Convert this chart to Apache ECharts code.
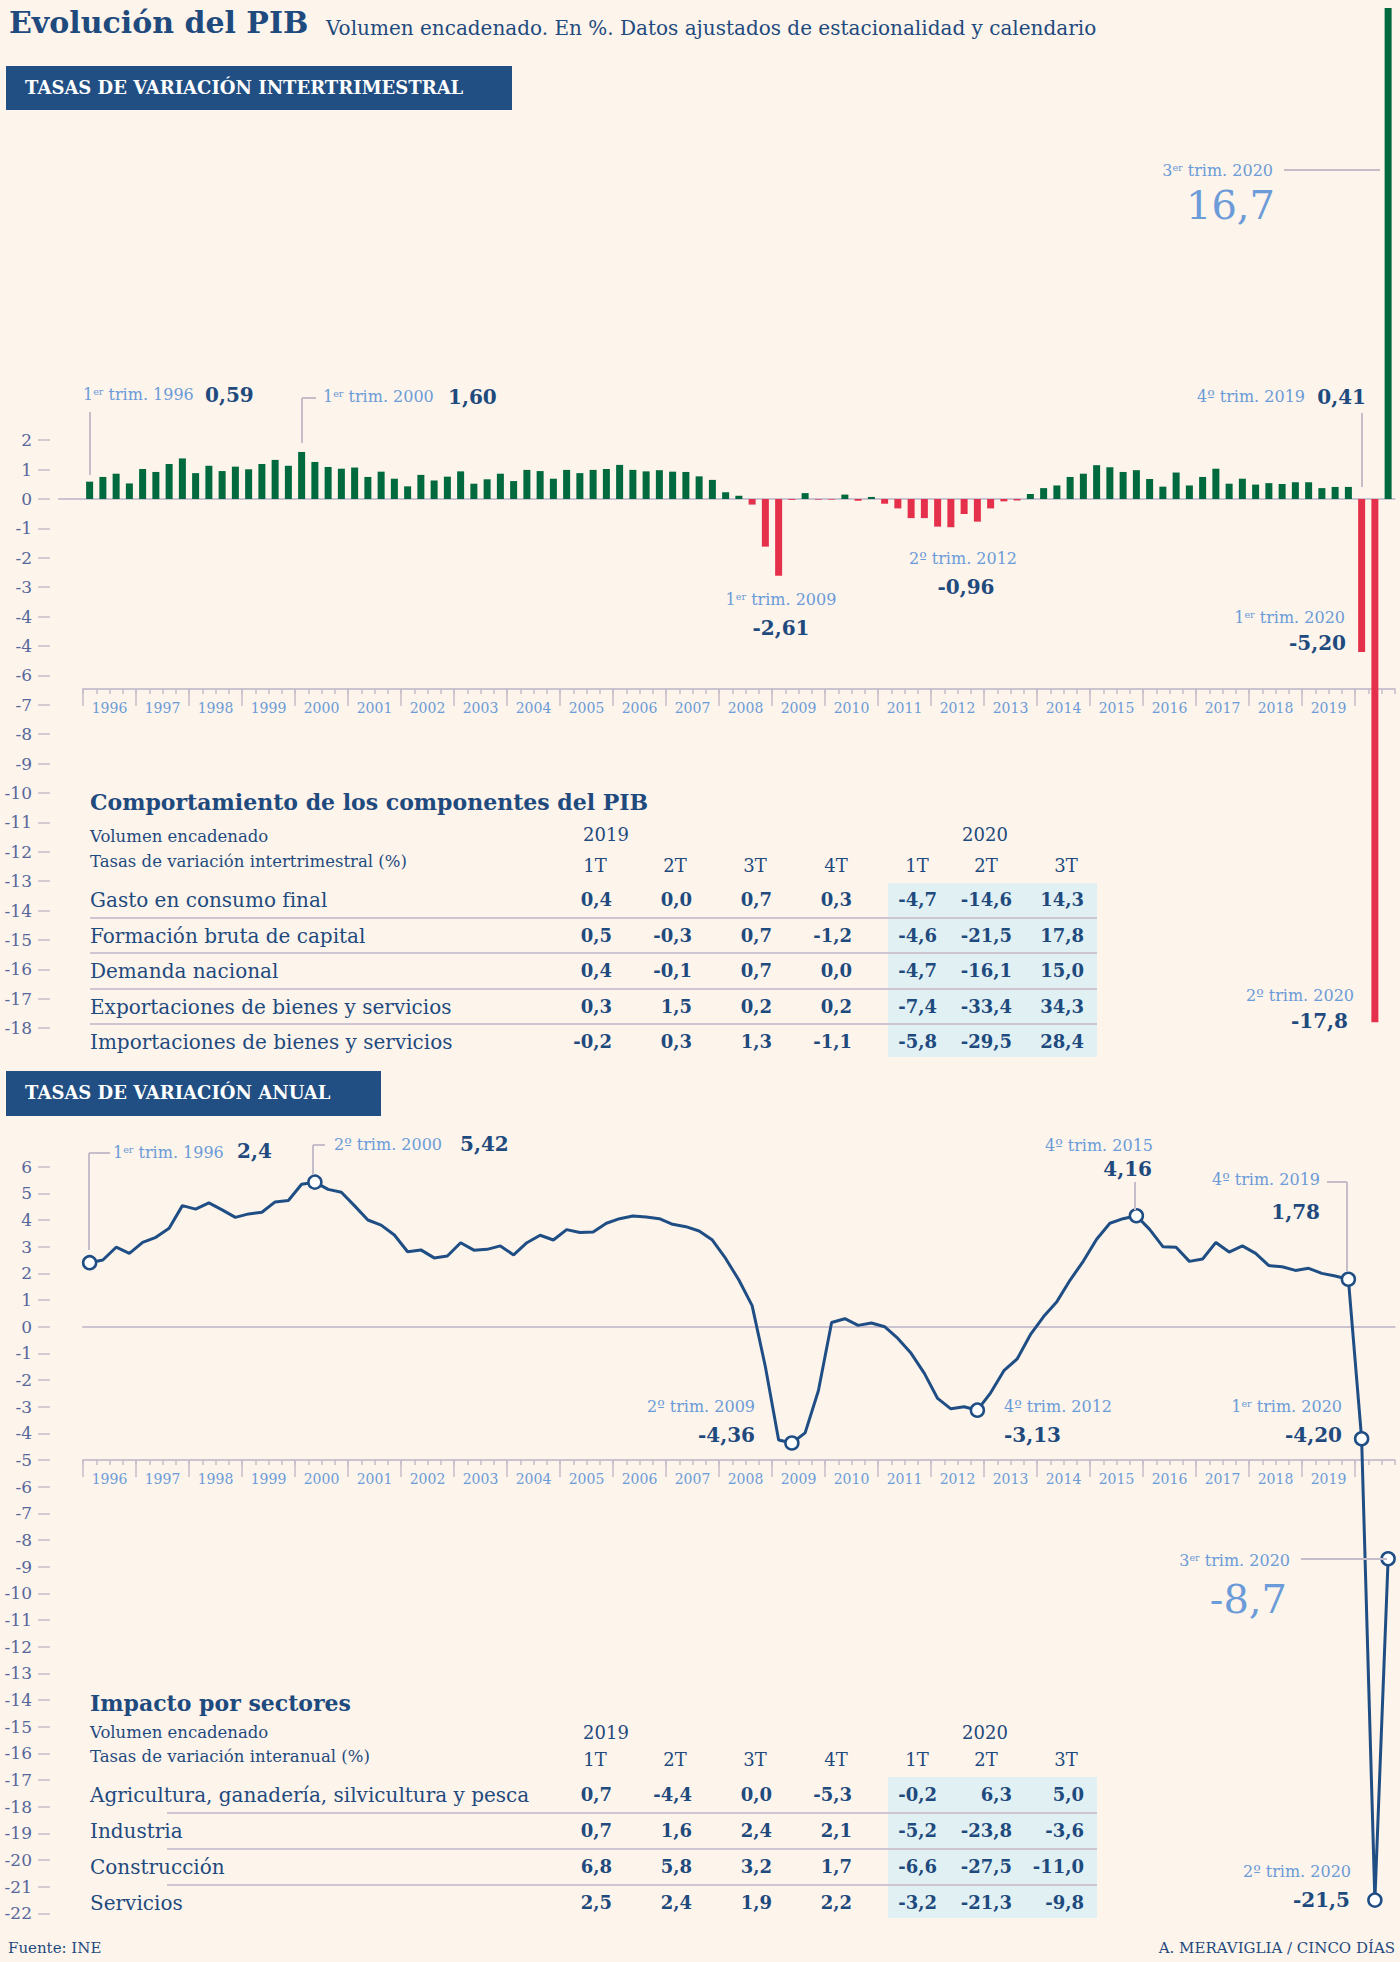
<!DOCTYPE html>
<html lang="es">
<head>
<meta charset="UTF-8">
<title>Evolución del PIB</title>
<script src="https://cdn.jsdelivr.net/npm/echarts@6/dist/echarts.min.js"></script>
<style>
  html, body { margin: 0; padding: 0; background: #fdf4eb; }
  #page { position: relative; width: 1400px; height: 1962px; overflow: hidden; font-family: "DejaVu Serif", serif; color: #1f4a7e; }
  #main { position: absolute; left: 0; top: 0; width: 1400px; height: 1962px; }
  .t { position: absolute; white-space: nowrap; line-height: 1; z-index: 3; }
  .rule { position: absolute; z-index: 2; }
  .title { font-weight: bold; font-size: 30px; }
  .sub { font-size: 20px; }
  .hdr { font-weight: bold; font-size: 18px; color: #fff; }
  .note { font-size: 16px; color: #6b9bd8; }
  .val { font-weight: bold; font-size: 20px; }
  .big { font-size: 40px; color: #6b9bd8; }
  .tt { font-weight: bold; font-size: 22px; }
  .th { font-size: 16.5px; }
  .col { font-size: 18px; }
  .row { font-size: 20px; }
  .num { font-weight: bold; font-size: 18px; }
  .foot { font-size: 15px; }
  .sup { font-size: 0.6em; position: relative; top: -0.5em; }
</style>
</head>
<body>
<div id="page">
  <div id="main"></div>
</div>
<script>
// ---- data ----
const years = ['1996','1997','1998','1999','2000','2001','2002','2003','2004','2005','2006','2007',
  '2008','2009','2010','2011','2012','2013','2014','2015','2016','2017','2018','2019'];

// tasa intertrimestral, 1T 1996 .. 3T 2020
const intertrimestral = [
  0.59, 0.75, 0.86, 0.53, 1.02, 0.92, 1.19, 1.38, 0.88, 1.13,
  0.95, 1.10, 1.01, 1.19, 1.33, 1.13, 1.60, 1.26, 1.09, 1.03,
  1.07, 0.75, 0.93, 0.69, 0.43, 0.82, 0.63, 0.76, 0.94, 0.52,
  0.67, 0.86, 0.61, 0.99, 0.95, 0.69, 0.99, 0.88, 0.99, 1.02,
  1.16, 0.99, 0.94, 0.98, 0.93, 0.92, 0.77, 0.65, 0.23, 0.11,
  -0.19, -1.62, -2.61, -0.03, 0.20, -0.02, -0.02, 0.15, -0.06, 0.07,
  -0.16, -0.32, -0.65, -0.65, -0.94, -0.96, -0.51, -0.77, -0.32, -0.08,
  -0.05, 0.17, 0.37, 0.46, 0.75, 0.86, 1.15, 1.08, 0.92, 0.98,
  0.68, 0.42, 0.90, 0.46, 0.75, 1.03, 0.52, 0.69, 0.49, 0.54,
  0.51, 0.57, 0.57, 0.37, 0.41, 0.41, -5.20, -17.8, 16.7
];

// tasa anual, 1T 1996 .. 3T 2020
const anual = [
  2.40, 2.50, 2.98, 2.75, 3.16, 3.35, 3.69, 4.54, 4.41, 4.64,
  4.38, 4.10, 4.23, 4.29, 4.68, 4.73, 5.34, 5.42, 5.15, 5.04,
  4.53, 4.00, 3.81, 3.44, 2.81, 2.88, 2.58, 2.65, 3.15, 2.87,
  2.90, 3.03, 2.69, 3.15, 3.43, 3.25, 3.64, 3.53, 3.55, 3.88,
  4.05, 4.15, 4.11, 4.05, 3.84, 3.75, 3.59, 3.25, 2.56, 1.75,
  0.79, -1.50, -4.25, -4.36, -3.98, -2.40, 0.16, 0.30, 0.05, 0.14,
  0.00, -0.44, -1.00, -1.75, -2.69, -3.08, -3.00, -3.13, -2.48, -1.65,
  -1.21, -0.30, 0.38, 0.94, 1.75, 2.46, 3.28, 3.88, 4.05, 4.16,
  3.65, 3.00, 2.98, 2.45, 2.54, 3.16, 2.80, 3.03, 2.75, 2.29,
  2.25, 2.11, 2.19, 2.00, 1.90, 1.78, -4.20, -21.5, -8.7
];
const anualMarked = [0, 17, 53, 67, 79, 95, 96, 97, 98];

const topTicks = [2,1,0,-1,-2,-3,-4,-5,-6,-7,-8,-9,-10,-11,-12,-13,-14,-15,-16,-17,-18];
const topTickLabels = ['2','1','0','-1','-2','-3','-4','-4','-6','-7','-8','-9','-10','-11','-12','-13','-14','-15','-16','-17','-18'];
const bottomTicks = [6,5,4,3,2,1,0,-1,-2,-3,-4,-5,-6,-7,-8,-9,-10,-11,-12,-13,-14,-15,-16,-17,-18,-19,-20,-21,-22];

const tableCols = ['1T','2T','3T','4T','1T','2T','3T'];
const compRows = ['Gasto en consumo final','Formación bruta de capital','Demanda nacional',
  'Exportaciones de bienes y servicios','Importaciones de bienes y servicios'];
const compValues = [
  [0.4, 0.0, 0.7, 0.3, -4.7, -14.6, 14.3],
  [0.5, -0.3, 0.7, -1.2, -4.6, -21.5, 17.8],
  [0.4, -0.1, 0.7, 0.0, -4.7, -16.1, 15.0],
  [0.3, 1.5, 0.2, 0.2, -7.4, -33.4, 34.3],
  [-0.2, 0.3, 1.3, -1.1, -5.8, -29.5, 28.4]
];
const sectorRows = ['Agricultura, ganadería, silvicultura y pesca','Industria','Construcción','Servicios'];
const sectorValues = [
  [0.7, -4.4, 0.0, -5.3, -0.2, 6.3, 5.0],
  [0.7, 1.6, 2.4, 2.1, -5.2, -23.8, -3.6],
  [6.8, 5.8, 3.2, 1.7, -6.6, -27.5, -11.0],
  [2.5, 2.4, 1.9, 2.2, -3.2, -21.3, -9.8]
];

// ---- layout ----
const N = intertrimestral.length;   // 99 trimestres
const STEP = 13.25;                 // px por trimestre
const X0 = 83;                      // borde izquierdo de 1996
const PLOT_W = N * STEP;
const TOP_ZERO = 499, TOP_UNIT = 29.4;
const BOT_ZERO = 1326.7, BOT_UNIT = 26.67;

const dark = '#1f4a7e', light = '#6b9bd8', lineBlue = '#1f4e85';
const axisGrey = '#cbc3cf', tickGrey = '#c6bdca';
const fmt = v => v.toFixed(1).replace('.', ',');

const minorTicks = Array.from({length: N + 1}, (_, i) => i);
const majorTicks = years.map((_, i) => i * 4).concat([96]);
const yearPos = years.map((_, i) => i * 4 + 2);

function yearAxes(gridIndex) {
  return [
    { gridIndex, type: 'value', min: 0, max: N, position: 'bottom',
      axisLine: { show: true, onZero: false, lineStyle: { color: axisGrey, width: 2 } },
      axisTick: { show: true, customValues: minorTicks, length: 5, lineStyle: { color: tickGrey, width: 1.5 } },
      axisLabel: { show: false }, splitLine: { show: false } },
    { gridIndex, type: 'value', min: 0, max: N, position: 'bottom',
      axisLine: { show: false, onZero: false },
      axisTick: { show: true, customValues: majorTicks, length: 17, lineStyle: { color: tickGrey, width: 1.5 } },
      axisLabel: { show: true, customValues: yearPos, formatter: v => years[Math.round((v - 2) / 4)],
        color: light, fontSize: 14, fontFamily: 'DejaVu Serif', margin: 12 },
      splitLine: { show: false } }
  ];
}
function plotX(gridIndex, min) {
  return { gridIndex, type: 'value', min, max: N,
    axisLine: { show: true, onZero: true, lineStyle: { color: axisGrey, width: 2 } },
    axisTick: { show: false }, axisLabel: { show: false }, splitLine: { show: false } };
}
function plotY(gridIndex, min, max, ticks, labelFn, offset) {
  return { gridIndex, type: 'value', min, max, interval: 1, offset,
    axisLine: { show: false, onZero: false },
    axisTick: { show: true, customValues: ticks, length: 12, lineStyle: { color: tickGrey, width: 1.5 } },
    axisLabel: { show: true, customValues: ticks, formatter: labelFn, color: '#56679b',
      fontSize: 17, fontFamily: 'DejaVu Serif', margin: 18 },
    splitLine: { show: false } };
}
const hiddenY = g => ({ gridIndex: g, type: 'value', min: 0, max: 1, show: false });

const chart = echarts.init(document.getElementById('main'), null, { renderer: 'svg', width: 1400, height: 1962 });
chart.setOption({
  animation: false,
  backgroundColor: '#fdf4eb',
  grid: [
    { left: 59, top: TOP_ZERO - 17 * TOP_UNIT, width: PLOT_W + (X0 - 59), height: 35 * TOP_UNIT, outerBoundsMode: 'none' },
    { left: X0, top: 688, width: PLOT_W, height: 1, outerBoundsMode: 'none' },
    { left: X0, top: BOT_ZERO - 7 * BOT_UNIT, width: PLOT_W, height: 29 * BOT_UNIT, outerBoundsMode: 'none' },
    { left: X0, top: 1459, width: PLOT_W, height: 1, outerBoundsMode: 'none' }
  ],
  xAxis: [
    plotX(0, -(X0 - 59) / STEP),
    ...yearAxes(1),
    plotX(2, 0),
    ...yearAxes(3)
  ],
  yAxis: [
    plotY(0, -18, 17, topTicks, v => topTickLabels[topTicks.indexOf(Math.round(v))] || '', 9),
    hiddenY(1),
    plotY(2, -22, 7, bottomTicks, v => String(Math.round(v)), X0 - 50),
    hiddenY(3)
  ],
  series: [
    { type: 'bar', xAxisIndex: 0, yAxisIndex: 0, barWidth: 7, silent: true,
      data: intertrimestral.map((v, i) => [i + 0.5, v]),
      itemStyle: { color: p => p.value[1] < 0 ? '#e5304c' : '#00693e' } },
    { type: 'line', xAxisIndex: 3, yAxisIndex: 2, symbol: 'none', silent: true,
      data: anual.map((v, i) => [i + 0.5, v]),
      lineStyle: { color: lineBlue, width: 3 } },
    { type: 'scatter', xAxisIndex: 3, yAxisIndex: 2, symbolSize: 13, silent: true, z: 5,
      data: anualMarked.map(i => [i + 0.5, anual[i]]),
      itemStyle: { color: '#ffffff', borderColor: lineBlue, borderWidth: 2.5, opacity: 1 } }
  ]
});

// ---- texts ----
const page = document.getElementById('page');
function put(html, x, y, cls, align) {
  const d = document.createElement('div');
  d.className = 't ' + cls;
  d.innerHTML = html;
  d.style.left = x + 'px';
  d.style.top = y + 'px';
  const tx = align === 'r' ? '-100%' : align === 'c' ? '-50%' : '0';
  d.style.transform = 'translate(' + tx + ', -50%)';
  page.appendChild(d);
  return d;
}
function box(x, y, w, h, color) {
  const d = document.createElement('div');
  d.className = 'rule';
  d.style.cssText += `left:${x}px;top:${y}px;width:${w}px;height:${h}px;background:${color};`;
  page.appendChild(d);
}
const vline = (x, y1, y2) => box(x - 0.75, y1, 1.5, y2 - y1, tickGrey);
const hline = (x1, x2, y) => box(x1, y - 0.75, x2 - x1, 1.5, tickGrey);
const er = '1<span class="sup">er</span> trim. ';
const rd = '3<span class="sup">er</span> trim. ';

put('Evolución del PIB', 9, 23, 'title');
put('Volumen encadenado. En %. Datos ajustados de estacionalidad y calendario', 326, 28, 'sub');

box(6, 66, 506, 44, '#214f84');
put('TASAS DE VARIACIÓN INTERTRIMESTRAL', 25, 88, 'hdr');
box(6, 1071, 375, 45, '#214f84');
put('TASAS DE VARIACIÓN ANUAL', 25, 1093, 'hdr');

// anotaciones intertrimestral
put(er + '1996', 83, 395, 'note'); put('0,59', 205, 395, 'val');
vline(90, 412, 475);
put(er + '2000', 323, 397, 'note'); put('1,60', 448, 397, 'val');
vline(302, 398, 443); hline(302, 316, 398);
put(er + '2009', 781, 600, 'note', 'c'); put('-2,61', 781, 628, 'val', 'c');
put('2º trim. 2012', 963, 559, 'note', 'c'); put('-0,96', 966, 587, 'val', 'c');
put('4º trim. 2019', 1305, 397, 'note', 'r'); put('0,41', 1366, 397, 'val', 'r');
vline(1362, 413, 487);
put(er + '2020', 1345, 618, 'note', 'r'); put('-5,20', 1346, 643, 'val', 'r');
put('2º trim. 2020', 1354, 996, 'note', 'r'); put('-17,8', 1348, 1021, 'val', 'r');
put(rd + '2020', 1273, 171, 'note', 'r'); put('16,7', 1275, 205, 'big', 'r');
hline(1284, 1380, 170);

// anotaciones anual
put(er + '1996', 113, 1153, 'note'); put('2,4', 237, 1151, 'val');
vline(89, 1153, 1250); hline(89, 110, 1153);
put('2º trim. 2000', 334, 1145, 'note'); put('5,42', 460, 1144, 'val');
vline(313, 1145, 1175); hline(313, 325, 1145);
put('2º trim. 2009', 755, 1407, 'note', 'r'); put('-4,36', 755, 1435, 'val', 'r');
put('4º trim. 2012', 1004, 1407, 'note'); put('-3,13', 1004, 1435, 'val');
put('4º trim. 2015', 1153, 1146, 'note', 'r'); put('4,16', 1152, 1169, 'val', 'r');
vline(1135, 1182, 1210);
put('4º trim. 2019', 1320, 1180, 'note', 'r'); put('1,78', 1320, 1212, 'val', 'r');
hline(1327, 1347, 1182); vline(1347, 1182, 1272);
put(er + '2020', 1342, 1407, 'note', 'r'); put('-4,20', 1342, 1435, 'val', 'r');
put(rd + '2020', 1290, 1561, 'note', 'r'); put('-8,7', 1287, 1599, 'big', 'r');
hline(1301, 1387, 1559);
put('2º trim. 2020', 1351, 1872, 'note', 'r'); put('-21,5', 1350, 1900, 'val', 'r');

// ---- tablas ----
const colRight = [612, 692, 772, 852, 937, 1012, 1084];
const colHead = [595, 675, 755, 836, 917, 986, 1066];
function table(t) {
  box(888, t.hlTop, 209, t.hlBottom - t.hlTop, '#e0f0f3');
  put(t.title, 90, t.titleY, 'tt');
  put('Volumen encadenado', 90, t.subY, 'th');
  put(t.subtitle, 90, t.subY + t.subGap, 'th');
  put('2019', 606, t.yearY, 'col', 'c');
  put('2020', 985, t.yearY, 'col', 'c');
  tableCols.forEach((c, j) => put(c, colHead[j], t.colY, 'col', 'c'));
  t.rows.forEach((name, i) => {
    const y = t.rowY + i * t.rowGap;
    put(name, 90, y, 'row');
    t.values[i].forEach((v, j) => put(fmt(v), colRight[j], y, 'num', 'r'));
    if (i < t.rows.length - 1) box(t.lineX, y + t.rowGap / 2 - 1, 1097 - t.lineX, 2, '#cdc6d2');
  });
}
table({ title: 'Comportamiento de los componentes del PIB', subtitle: 'Tasas de variación intertrimestral (%)',
  titleY: 802, subY: 837, subGap: 25, yearY: 835, colY: 866, rowY: 900, rowGap: 35.5,
  hlTop: 883, hlBottom: 1057, lineX: 90, rows: compRows, values: compValues });
table({ title: 'Impacto por sectores', subtitle: 'Tasas de variación interanual (%)',
  titleY: 1703, subY: 1733, subGap: 24, yearY: 1733, colY: 1760, rowY: 1795, rowGap: 36,
  hlTop: 1777, hlBottom: 1918, lineX: 167, rows: sectorRows, values: sectorValues });

put('Fuente: INE', 8, 1948, 'foot');
put('A. MERAVIGLIA / CINCO DÍAS', 1395, 1948, 'foot', 'r');
</script>
</body>
</html>
